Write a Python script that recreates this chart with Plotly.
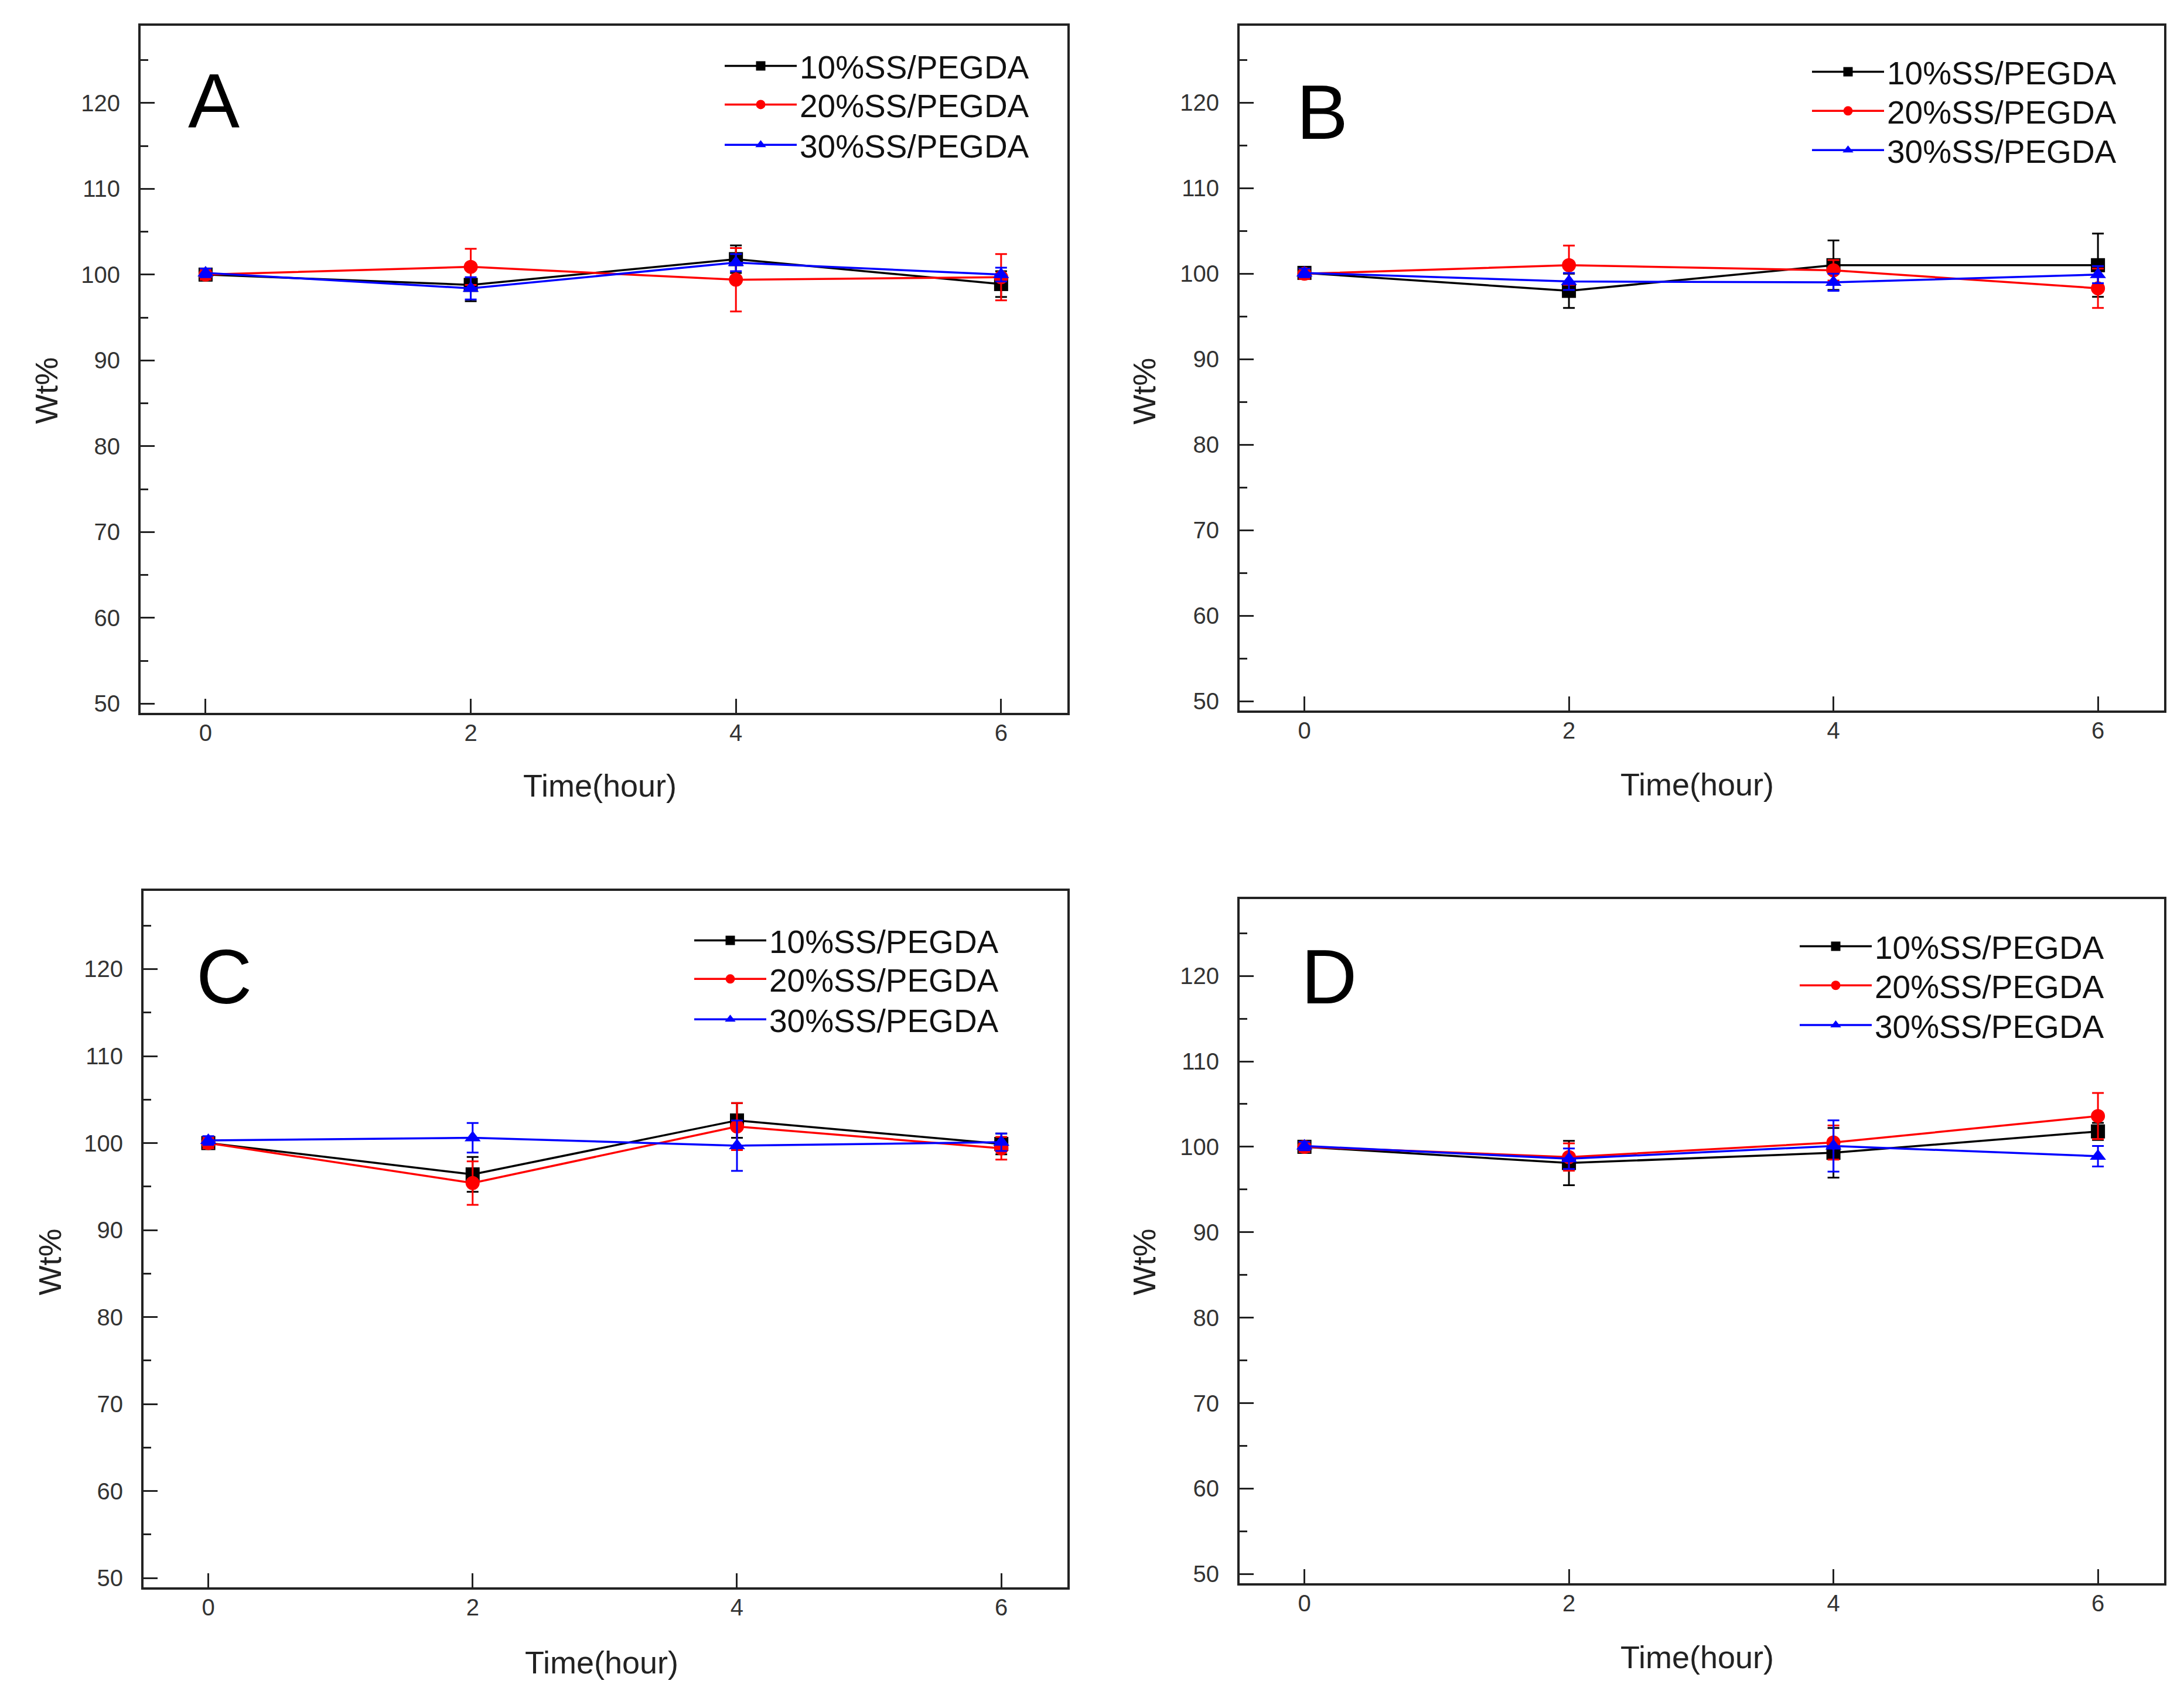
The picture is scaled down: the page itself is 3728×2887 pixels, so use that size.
import plotly.graph_objects as go

W, H = 3728, 2887

time_h = [0, 2, 4, 6]
series_names = ["10%SS/PEGDA", "20%SS/PEGDA", "30%SS/PEGDA"]
colors = ["#000000", "#FF0000", "#0000FF"]
symbols = ["square", "circle", "triangle-up"]

# Panel A
a_10 = [100.0, 98.8, 101.8, 98.9]
a_10_err = [0.6, 1.9, 1.6, 1.5]
a_20 = [100.0, 100.9, 99.4, 99.7]
a_20_err = [0.6, 2.1, 3.7, 2.7]
a_30 = [100.2, 98.4, 101.4, 100.0]
a_30_err = [0.5, 1.3, 1.0, 0.8]

# Panel B
b_10 = [100.1, 98.0, 101.0, 101.0]
b_10_err = [0.6, 2.0, 2.9, 3.7]
b_20 = [100.0, 101.0, 100.4, 98.3]
b_20_err = [0.6, 2.3, 1.2, 2.3]
b_30 = [100.1, 99.1, 99.0, 99.9]
b_30_err = [0.5, 1.0, 1.0, 1.0]

# Panel C
c_10 = [100.0, 96.4, 102.6, 99.9]
c_10_err = [0.6, 2.0, 2.0, 1.2]
c_20 = [100.0, 95.4, 101.9, 99.4]
c_20_err = [0.6, 2.5, 2.7, 1.3]
c_30 = [100.3, 100.6, 99.7, 100.1]
c_30_err = [0.5, 1.7, 2.9, 1.0]

# Panel D
d_10 = [100.0, 98.1, 99.3, 101.8]
d_10_err = [0.6, 2.6, 2.9, 1.0]
d_20 = [100.0, 98.8, 100.5, 103.6]
d_20_err = [0.6, 1.6, 2.0, 2.7]
d_30 = [100.1, 98.6, 100.1, 98.9]
d_30_err = [0.5, 1.2, 3.0, 1.2]

panel_letters = ["A", "B", "C", "D"]
x_title = "Time(hour)"
y_title = "Wt%"
y_tick_vals = [50, 60, 70, 80, 90, 100, 110, 120]
x_tick_vals = [0, 2, 4, 6]

panels = [
    [(a_10, a_10_err), (a_20, a_20_err), (a_30, a_30_err)],
    [(b_10, b_10_err), (b_20, b_20_err), (b_30, b_30_err)],
    [(c_10, c_10_err), (c_20, c_20_err), (c_30, c_30_err)],
    [(d_10, d_10_err), (d_20, d_20_err), (d_30, d_30_err)],
]

# pixel frames (left, top, right, bottom)
frames = [
    (232, 36, 1814, 1212),
    (2108, 36, 3686, 1208),
    (237, 1516, 1814, 2708),
    (2108, 1530, 3686, 2701),
]

# legend: line start x, and row centre y for each of the three entries
legend_layout = [
    (1234, [105, 171, 240]),
    (3090, [115, 182, 249]),
    (1182, [1601, 1667, 1736]),
    (3069, [1611, 1678, 1746]),
]

def px(x):
    return x / W

def py(y):
    return 1 - y / H

fig = go.Figure()
font_family = "Liberation Sans, Arial, sans-serif"

legend_idx = 0
legend_defs = {}
for i, (series, fr) in enumerate(zip(panels, frames)):
    xa = "x" if i == 0 else f"x{i+1}"
    ya = "y" if i == 0 else f"y{i+1}"
    lx, rows = legend_layout[i]
    for j, (vals, errs) in enumerate(series):
        legend_idx += 1
        lname = "legend" if legend_idx == 1 else f"legend{legend_idx}"
        fig.add_trace(go.Scatter(
            x=time_h, y=vals, mode="lines+markers",
            name=series_names[j],
            line=dict(color=colors[j], width=3.5),
            marker=dict(color=colors[j], symbol=symbols[j], size=24, line=dict(width=0)),
            error_y=dict(type="data", array=errs, visible=True, color=colors[j], thickness=3, width=10),
            xaxis=xa, yaxis=ya,
            legend=lname,
        ))
        legend_defs[lname] = dict(
            x=px(lx - 10), y=py(rows[j]), xanchor="left", yanchor="middle",
            font=dict(family=font_family, size=55, color="#111111"),
            bgcolor="rgba(0,0,0,0)", itemwidth=123, tracegroupgap=0,
        )
    l, t, r, b = fr
    axis_common = dict(
        showline=True, linecolor="#222222", linewidth=4, mirror=True,
        ticks="inside", tickcolor="#222222", tickwidth=3,
        showgrid=False, zeroline=False,
        tickfont=dict(family=font_family, size=40, color="#333333"),
    )
    xkey = "xaxis" if i == 0 else f"xaxis{i+1}"
    ykey = "yaxis" if i == 0 else f"yaxis{i+1}"
    fig.update_layout(**{
        xkey: dict(domain=[px(l), px(r)], range=[-0.49, 6.5], tickvals=x_tick_vals,
                   ticklen=24, anchor=ya, ticklabelstandoff=-4, **axis_common),
        ykey: dict(domain=[py(b), py(t)], range=[48.9, 129.0], tickvals=y_tick_vals,
                   ticklen=24, anchor=xa, ticklabelstandoff=23,
                   minor=dict(dtick=5, tick0=0, ticks="inside", ticklen=13, tickwidth=3, tickcolor="#222222"),
                   **axis_common),
    })

fig.update_layout(**legend_defs)

annotations = []
letter_pos = [(357, 165), (2249, 184), (374, 1663), (2260, 1663)]
for letter, (lx, ly) in zip(panel_letters, letter_pos):
    annotations.append(dict(text=letter, x=px(lx), y=py(ly), xref="paper", yref="paper",
                            showarrow=False, xanchor="center", yanchor="middle",
                            font=dict(family=font_family, size=132, color="#000000")))
xt_pos = [(1016, 1336), (2889, 1334), (1019, 2836), (2889, 2827)]
for (lx, ly) in xt_pos:
    annotations.append(dict(text=x_title, x=px(lx), y=py(ly), xref="paper", yref="paper",
                            showarrow=False, xanchor="center", yanchor="middle",
                            font=dict(family=font_family, size=54, color="#222222")))
yt_pos = [(71, 660), (1945, 661), (77, 2151), (1945, 2151)]
for (lx, ly) in yt_pos:
    annotations.append(dict(text=y_title, x=px(lx), y=py(ly), xref="paper", yref="paper",
                            showarrow=False, xanchor="center", yanchor="middle", textangle=-90,
                            font=dict(family=font_family, size=54, color="#222222")))

fig.update_layout(
    width=W, height=H,
    margin=dict(l=0, r=0, t=0, b=0),
    paper_bgcolor="white", plot_bgcolor="white",
    annotations=annotations,
    showlegend=True,
)

fig.write_html("out.html")
